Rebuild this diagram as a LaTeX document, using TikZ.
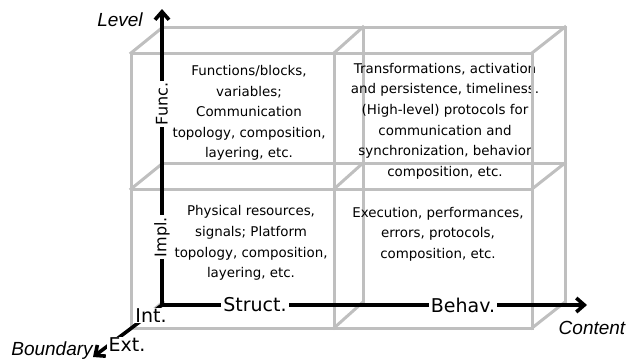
\documentclass[tikz,border=0pt]{standalone}
\usepackage{fontspec}
\setmainfont{DejaVu Sans}
\newfontfamily\titlefont{Liberation Sans}
\usetikzlibrary{arrows.meta}

\begin{document}
\begin{tikzpicture}[x=1pt,y=-1pt,
  gridline/.style={draw=black!25, line width=3pt, line cap=rect},
  axis/.style={draw=black, line width=3.6pt},
  axtip/.style={-{Straight Barb[length=8pt,width=14pt]}},
  cell/.style={font=\fontsize{13.4}{20.6}\selectfont, align=center, inner sep=0pt},
  hlab/.style={font=\fontsize{19}{22}\selectfont, fill=white, inner xsep=2pt, inner ysep=1pt},
  vlab/.style={font=\fontsize{16}{19}\selectfont, fill=white, inner xsep=2pt, inner ysep=1pt, rotate=90},
  dimtitle/.style={font=\titlefont\itshape\fontsize{19}{22}\selectfont, inner sep=0pt}
]
\useasboundingbox (0,0) rectangle (639,360);

% back face of the box
\draw[gridline] (163,27) -- (565,27) -- (565,302);
\draw[gridline] (163,163) -- (565,163);
\draw[gridline] (363,27) -- (363,302);
% depth edges
\foreach \fx/\bx in {131/163,334/363,532/565}
  \foreach \fy/\by in {53/27,189/163,328/302}
    \draw[gridline] (\fx,\fy) -- (\bx,\by);

% cell contents
\node[cell] (fs) at (249,113) {Functions/blocks,\\variables;\\Communication\\topology, composition,\\layering, etc.};
\node[cell] (fb) at (445,121) {Transformations, activation\\and persistence, timeliness.\\(High-level) protocols for\\communication and\\synchronization, behavior\\composition, etc.};
\node[cell] (is) at (251,243) {Physical resources,\\signals; Platform\\topology, composition,\\layering, etc.};
\node[cell] (ib) at (438,234) {Execution, performances,\\errors, protocols,\\composition, etc.};

% front face of the box
\foreach \fx in {131,334,532}
  \draw[gridline] (\fx,53) -- (\fx,328);
\foreach \fy in {53,189,328}
  \draw[gridline] (131,\fy) -- (532,\fy);

% axes: the boundary axis runs under its two labels
\coordinate (O) at (162,305);
\coordinate (ytip) at (162,9);
\coordinate (xtip) at (587,305);
\coordinate (ztip) at (93,357);
\draw[axis,axtip] (O) -- (ztip);
\node[hlab] (int) at (151,315.5) {Int.};
\node[hlab] (ext) at (127,345) {Ext.};
\draw[axis,axtip] (O) -- (ytip);
\draw[axis,axtip] (O) -- (xtip);

% axis labels
\node[vlab] (func) at (162,104) {Func.};
\node[vlab] (impl) at (162,237) {Impl.};
\node[hlab] (struct) at (255,305) {Struct.};
\node[hlab] (behav) at (463,305) {Behav.};

% dimension names
\node[dimtitle] (level) at (120,20) {Level};
\node[dimtitle] (content) at (592,328) {Content};
\node[dimtitle] (boundary) at (52,351) {Boundary};
\end{tikzpicture}
\end{document}
